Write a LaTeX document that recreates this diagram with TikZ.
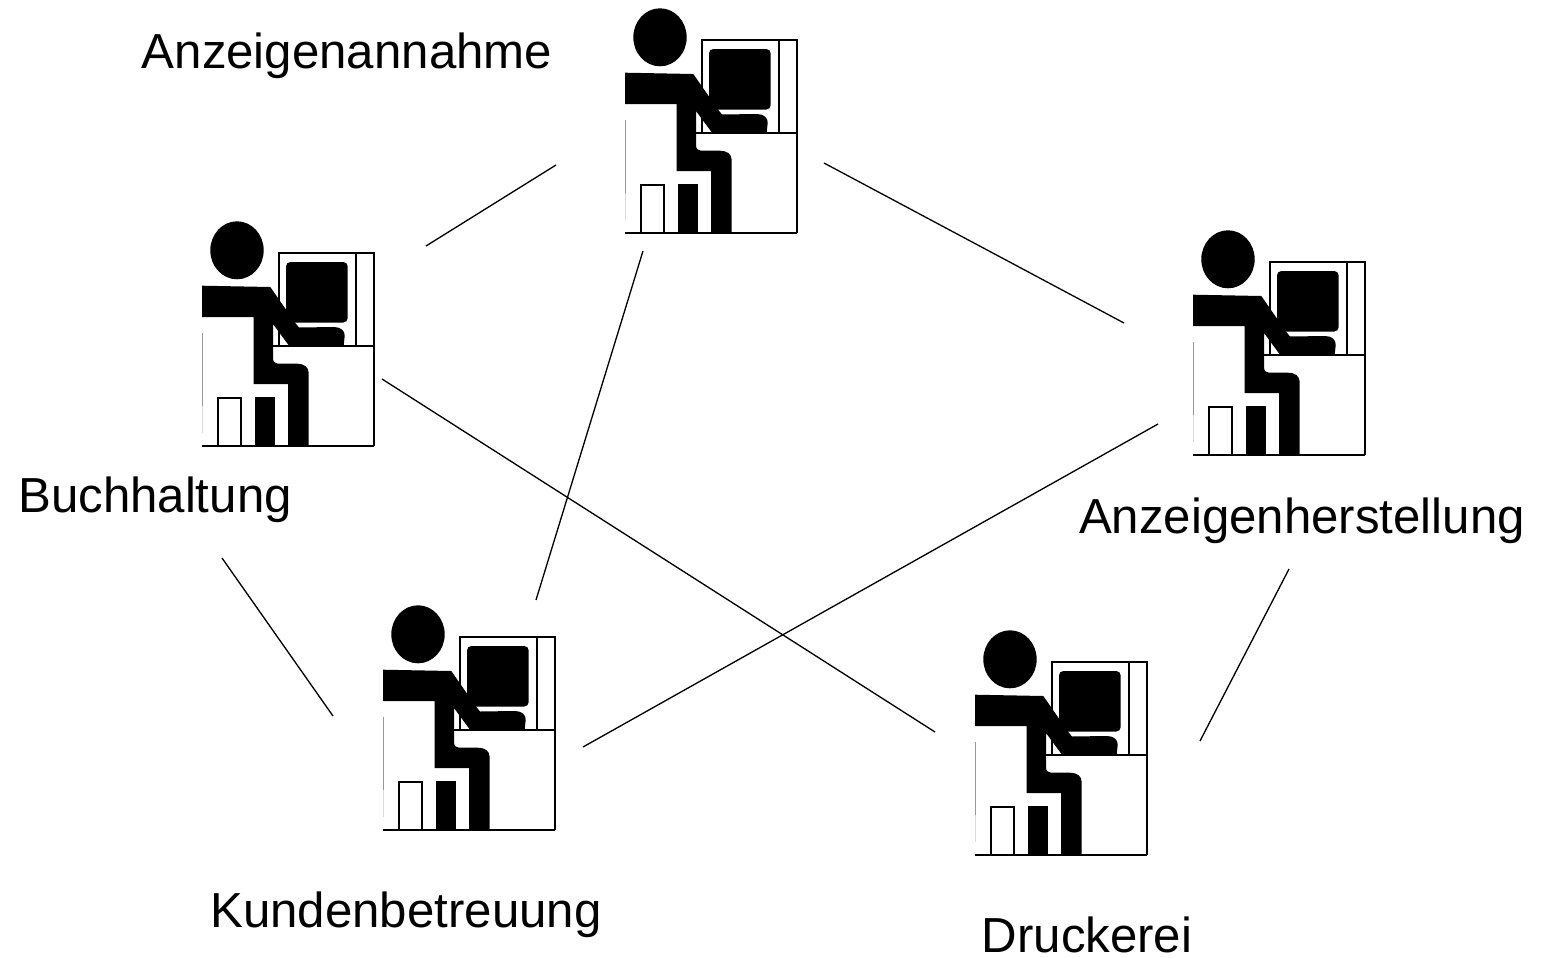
\documentclass[tikz,border=0pt]{standalone}
\usepackage{fontspec}
\setmainfont{Liberation Sans}
\tikzset{
  dept/.style={anchor=base, inner sep=0pt, font=\fontsize{28}{32}\selectfont},
  link/.style={line width=0.75pt},
  worker/.pic={
    \fill (35,-195.7) ellipse[x radius=26.7, y radius=29];
    \draw[line width=1pt] (77.3,-100.7) -- (77.3,-193) -- (171.7,-193) -- (171.7,0);
    \draw[line width=1pt] (153.7,-193) -- (153.7,-100.7);
    \fill[rounded corners=2.5pt] (84,-184) rectangle (145.7,-123.5);
    \fill (0,-160.3) -- (68.3,-159) -- (93.3,-123) -- (97,-118.5) -- (132,-119)
      .. controls (139,-119) and (143,-115) .. (142.7,-110) -- (141.7,-100.7) -- (86.7,-100.7)
      -- (71,-122) -- (71,-88) .. controls (71,-84) and (73,-82.3) .. (76,-82.3) -- (95,-82.3)
      .. controls (102,-82.3) and (106.7,-79) .. (106.7,-73) -- (106.7,0) -- (86,0)
      -- (86,-62) -- (51.7,-62) -- (51.7,-129) -- (0,-129) -- cycle;
    \draw[line width=1.2pt] (71,-99.7) -- (171.7,-99.7);
    \draw[line width=1.4pt] (0,0) -- (171.7,0);
    \draw[line width=0.5pt, gray!80] (0,-113) -- (0,-40);
    \draw[line width=0.5pt, gray!30] (0,-40) -- (0,-13);
    \draw[line width=1pt] (16,0) -- (16,-48) -- (39,-48) -- (39,0);
    \fill (53.3,-48.7) rectangle (72.7,0);
  }
}

\begin{document}
\begin{tikzpicture}[x=0.02cm, y=-0.02cm]
\useasboundingbox (0,0) rectangle (1542,957);
\pic at (625,233) {worker};
\pic at (202,446) {worker};
\pic at (1193,455) {worker};
\pic at (383,830) {worker};
\pic at (975,855) {worker};
\node[dept] (annahme) at (347,68) {Anzeigenannahme};
\node[dept] (buchhaltung) at (155,512) {Buchhaltung};
\node[dept] (herstellung) at (1302,533) {Anzeigenherstellung};
\node[dept] (kunden) at (406,927) {Kundenbetreuung};
\node[dept] (druckerei) at (1087,952) {Druckerei};
% links
\coordinate (a1) at (556,165);
\coordinate (b1) at (426,246);
\coordinate (a2) at (824,163);
\coordinate (h1) at (1124,323);
\coordinate (a3) at (643,251);
\coordinate (k1) at (536,600);
\coordinate (b2) at (382,379);
\coordinate (d1) at (935,732);
\coordinate (h2) at (1158,424);
\coordinate (k2) at (583,747);
\coordinate (b3) at (222,558);
\coordinate (k3) at (333,716);
\coordinate (h3) at (1289,569);
\coordinate (d2) at (1200,741);
\draw[link] (a1) -- (b1);
\draw[link] (a2) -- (h1);
\draw[link] (a3) -- (k1);
\draw[link] (b2) -- (d1);
\draw[link] (h2) -- (k2);
\draw[link] (b3) -- (k3);
\draw[link] (h3) -- (d2);
\end{tikzpicture}
\end{document}
